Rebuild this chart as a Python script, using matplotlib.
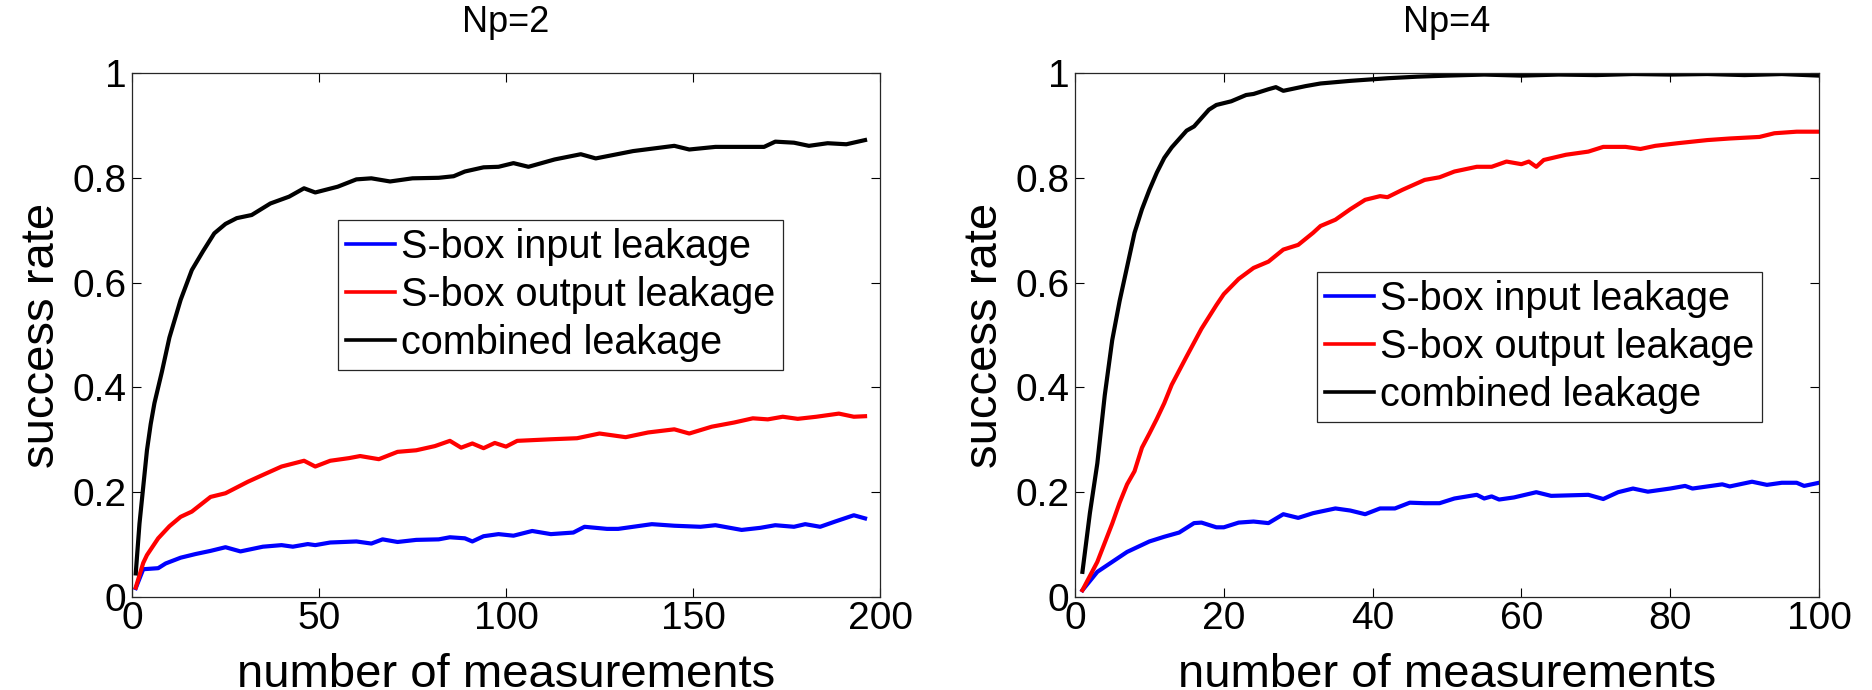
import matplotlib
matplotlib.use("Agg")
import matplotlib.pyplot as plt

plt.rcParams['font.family'] = ['Liberation Sans', 'DejaVu Sans']

# ---------------- data: Np=2 ----------------
np2_black_x = [1, 2, 3, 4, 5, 6, 8, 10, 13, 16, 19, 22, 25, 28, 32, 37, 42, 46, 49, 55, 60, 64, 69,
               75, 82, 86, 89, 94, 98, 102, 106, 113, 120, 124, 134, 145, 149, 156, 169, 172, 177,
               181, 186, 191, 196]
np2_black_y = [0.045, 0.14, 0.21, 0.28, 0.33, 0.37, 0.43, 0.495, 0.567, 0.624, 0.66, 0.694, 0.712,
               0.723, 0.729, 0.751, 0.764, 0.780, 0.772, 0.783, 0.797, 0.799, 0.793, 0.799, 0.800,
               0.803, 0.812, 0.820, 0.821, 0.828, 0.821, 0.835, 0.845, 0.837, 0.851, 0.861, 0.854,
               0.859, 0.859, 0.869, 0.867, 0.861, 0.866, 0.864, 0.872]

np2_red_x = [1, 3, 4, 7, 10, 13, 16, 21, 25, 31, 35, 40, 46, 49, 53, 58, 61, 66, 71, 76, 81, 85, 88,
             91, 94, 97, 100, 103, 112, 119, 125, 132, 138, 145, 149, 155, 161, 166, 170, 174, 178,
             183, 189, 193, 196]
np2_red_y = [0.018, 0.065, 0.08, 0.112, 0.135, 0.153, 0.163, 0.191, 0.198, 0.220, 0.233, 0.249,
             0.260, 0.249, 0.260, 0.265, 0.269, 0.263, 0.277, 0.280, 0.288, 0.298, 0.285, 0.293,
             0.284, 0.294, 0.287, 0.298, 0.301, 0.303, 0.312, 0.305, 0.314, 0.320, 0.312, 0.325,
             0.333, 0.341, 0.339, 0.344, 0.340, 0.344, 0.350, 0.344, 0.345]

np2_blue_x = [1, 3, 7, 9, 13, 17, 21, 25, 29, 35, 40, 43, 47, 49, 53, 60, 64, 67, 71, 76, 82, 85, 89,
              91, 94, 98, 102, 107, 112, 118, 121, 127, 130, 139, 145, 152, 156, 163, 168, 172, 177,
              180, 184, 188, 193, 196]
np2_blue_y = [0.017, 0.053, 0.055, 0.064, 0.075, 0.082, 0.088, 0.095, 0.087, 0.096, 0.099, 0.096,
              0.101, 0.099, 0.104, 0.106, 0.102, 0.110, 0.105, 0.109, 0.110, 0.114, 0.112, 0.106,
              0.116, 0.120, 0.117, 0.126, 0.120, 0.123, 0.134, 0.130, 0.130, 0.139, 0.136, 0.134,
              0.137, 0.128, 0.132, 0.137, 0.134, 0.139, 0.134, 0.144, 0.156, 0.150]

# ---------------- data: Np=4 ----------------
np4_black_x = [1, 2, 3, 4, 5, 6, 7, 8, 9, 10, 11, 12, 13, 15, 16, 18, 19, 21, 23, 24, 26, 27, 28,
               31, 33, 37, 42, 46, 50, 55, 60, 65, 70, 75, 80, 85, 90, 95, 100]
np4_black_y = [0.048, 0.16, 0.255, 0.385, 0.49, 0.565, 0.63, 0.695, 0.74, 0.777, 0.81, 0.838,
               0.858, 0.89, 0.898, 0.93, 0.939, 0.946, 0.958, 0.96, 0.969, 0.973, 0.966, 0.975,
               0.98, 0.985, 0.99, 0.993, 0.995, 0.997, 0.995, 0.997, 0.996, 0.998, 0.997, 0.998,
               0.996, 0.998, 0.995]

np4_red_x = [1, 3, 5, 6, 7, 8, 9, 10, 11, 12, 13, 15, 17, 19, 20, 22, 24, 26, 28, 30, 32, 33, 35,
             37, 39, 41, 42, 44, 47, 49, 51, 54, 56, 58, 60, 61, 62, 63, 66, 69, 71, 74, 76, 78,
             81, 85, 88, 92, 94, 97, 100]
np4_red_y = [0.013, 0.067, 0.14, 0.18, 0.215, 0.24, 0.285, 0.312, 0.34, 0.37, 0.405, 0.459, 0.512,
             0.557, 0.578, 0.607, 0.628, 0.64, 0.663, 0.672, 0.695, 0.708, 0.72, 0.74, 0.758,
             0.765, 0.763, 0.777, 0.796, 0.801, 0.812, 0.821, 0.821, 0.831, 0.826, 0.831, 0.821,
             0.834, 0.844, 0.85, 0.859, 0.859, 0.855, 0.861, 0.866, 0.872, 0.875, 0.878, 0.885,
             0.888, 0.888]

np4_blue_x = [1, 3, 5, 7, 10, 12, 14, 16, 17, 19, 20, 22, 24, 26, 28, 30, 32, 35, 37, 39, 41, 43,
              45, 47, 49, 51, 54, 55, 56, 57, 59, 62, 64, 69, 71, 73, 75, 77, 80, 82, 83, 87, 88,
              91, 93, 95, 97, 98, 100]
np4_blue_y = [0.013, 0.048, 0.067, 0.086, 0.106, 0.115, 0.123, 0.141, 0.142, 0.133, 0.133, 0.142,
              0.144, 0.141, 0.158, 0.151, 0.16, 0.169, 0.165, 0.158, 0.169, 0.169, 0.18, 0.179,
              0.179, 0.188, 0.195, 0.188, 0.192, 0.186, 0.19, 0.2, 0.193, 0.195, 0.187, 0.2,
              0.207, 0.201, 0.207, 0.212, 0.207, 0.215, 0.211, 0.22, 0.214, 0.218, 0.218, 0.212,
              0.218]

labels = ["S-box input leakage", "S-box output leakage", "combined leakage"]
titles = ["Np=2", "Np=4"]
xticks_list = [[0, 50, 100, 150, 200], [0, 20, 40, 60, 80, 100]]
xlims = [(0, 200), (0, 100)]
yticks = [0, 0.2, 0.4, 0.6, 0.8, 1]
ytick_labels = ["0", "0.2", "0.4", "0.6", "0.8", "1"]

panels = [
    (np2_blue_x, np2_blue_y, np2_red_x, np2_red_y, np2_black_x, np2_black_y),
    (np4_blue_x, np4_blue_y, np4_red_x, np4_red_y, np4_black_x, np4_black_y),
]

W, H = 1872, 690
fig = plt.figure(figsize=(W / 100, H / 100), dpi=100)
ax_rects = [[132 / W, 93 / H, 748 / W, 524 / H],
            [1075 / W, 93 / H, 744 / W, 524 / H]]
legend_anchor = [(0.275, 0.719), (0.325, 0.62)]
ylabel_x = [-0.104, -0.105]

for i, rect in enumerate(ax_rects):
    ax = fig.add_axes(rect)
    bx, by, rx, ry, kx, ky = panels[i]
    ax.plot(bx, by, color=(0, 0, 1), lw=3.0, label=labels[0])
    ax.plot(rx, ry, color=(1, 0, 0), lw=3.0, label=labels[1])
    ax.plot(kx, ky, color='black', lw=3.0, label=labels[2])
    ax.set_xlim(*xlims[i])
    ax.set_ylim(0, 1)
    ax.set_xticks(xticks_list[i])
    ax.set_xticklabels([str(t) for t in xticks_list[i]])
    ax.set_yticks(yticks)
    ax.set_yticklabels(ytick_labels)
    ax.tick_params(direction='in', length=6.5, width=0.8, top=True, right=True,
                   labelsize=28, colors='black')
    ax.tick_params(axis='x', pad=3)
    ax.tick_params(axis='y', pad=4)
    for sp in ax.spines.values():
        sp.set_linewidth(0.9)
        sp.set_color('#262626')
    ax.set_xlabel("number of measurements", fontsize=34)
    ax.xaxis.label.set_va('baseline')
    ax.xaxis.set_label_coords(0.5, -0.172)
    ax.set_ylabel("success rate", fontsize=34)
    ax.yaxis.label.set_va('baseline')
    ax.yaxis.set_label_coords(ylabel_x[i], 0.5)
    ax.set_title(titles[i], fontsize=26, y=1.062, va='baseline')
    leg = ax.legend(loc='upper left', bbox_to_anchor=legend_anchor[i], borderaxespad=0,
                    fontsize=28.5, fancybox=False, framealpha=1, edgecolor='#262626',
                    borderpad=0.2, labelspacing=0.25, handlelength=1.25, handletextpad=0.15)
    leg.get_frame().set_linewidth(0.9)
    for h in leg.get_lines():
        h.set_linewidth(2.6)

fig.savefig("out.png", dpi=100)
